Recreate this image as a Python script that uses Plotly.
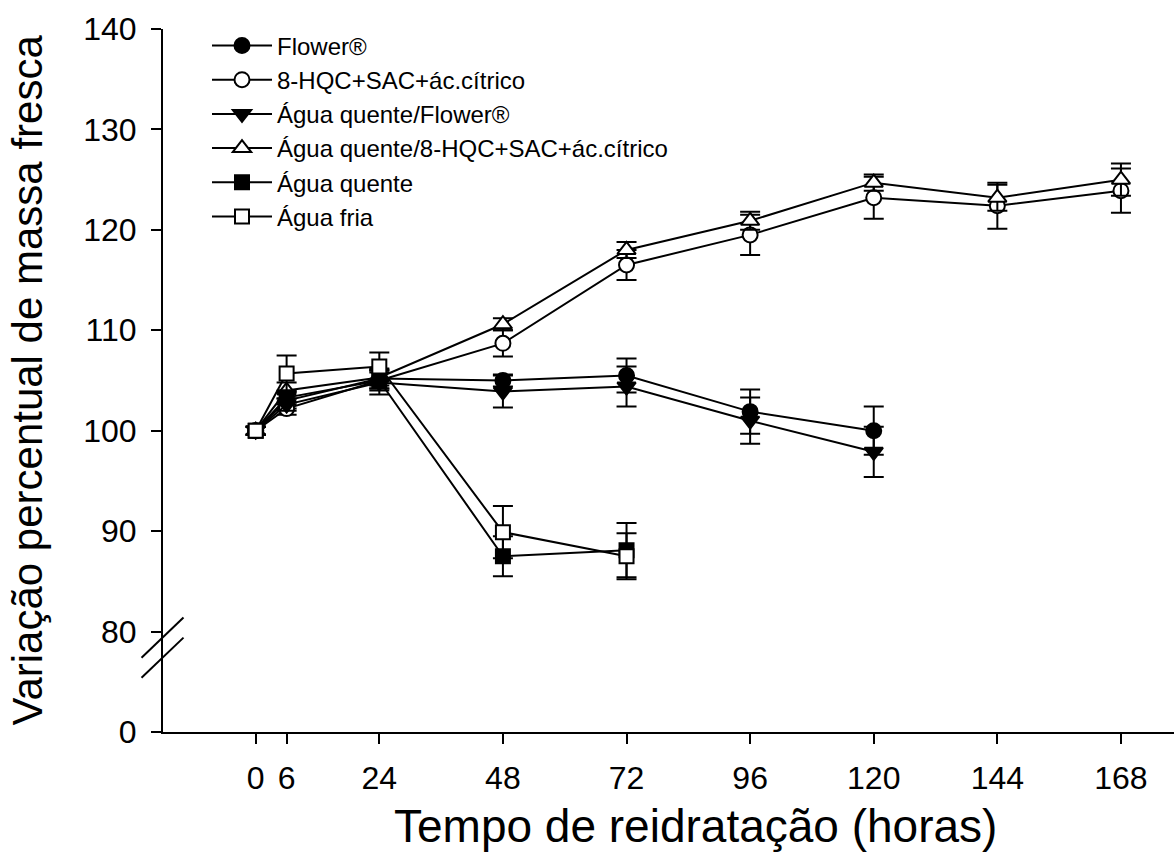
import plotly.graph_objects as go

# ---------------- data ----------------
hours_all = [0, 6, 24, 48, 72, 96, 120, 144, 168]
hours_120 = [0, 6, 24, 48, 72, 96, 120]
hours_72 = [0, 6, 24, 48, 72]

flower = [100, 103.0, 105.2, 105.0, 105.5, 101.9, 100.0]
flower_err = [0.4, 0.8, 1.0, 0.6, 1.7, 2.2, 2.4]

hqc = [100, 102.2, 105.0, 108.7, 116.5, 119.5, 123.2, 122.4, 123.9]
hqc_err = [0.4, 0.6, 0.8, 1.3, 1.5, 2.0, 2.1, 2.3, 2.2]

aq_flower = [100, 102.6, 104.8, 103.9, 104.4, 101.0, 97.9]
aq_flower_err = [0.4, 0.6, 1.2, 1.6, 2.0, 2.3, 2.5]

aq_hqc = [100, 104.0, 105.3, 110.6, 118.0, 120.9, 124.7, 123.2, 125.0]
aq_hqc_err = [0.4, 0.8, 0.8, 0.6, 0.8, 0.9, 0.8, 1.3, 1.6]

aq = [100, 103.3, 105.0, 87.5, 88.1]
aq_err = [0.4, 0.7, 1.0, 2.0, 2.7]

af = [100, 105.7, 106.4, 89.9, 87.5]
af_err = [0.4, 1.8, 1.4, 2.6, 2.3]

series_names = ["Flower®", "8-HQC+SAC+ác.cítrico", "Água quente/Flower®",
                "Água quente/8-HQC+SAC+ác.cítrico", "Água quente", "Água fria"]

x_ticks = [0, 6, 24, 48, 72, 96, 120, 144, 168]
y_tickvals = [70, 80, 90, 100, 110, 120, 130, 140]
y_ticktext = ["0", "80", "90", "100", "110", "120", "130", "140"]

FONT = "Liberation Sans, Arial, sans-serif"

specs = [
    (hours_120, flower, flower_err, "circle", "black", 15),
    (hours_all, hqc, hqc_err, "circle", "white", 15),
    (hours_120, aq_flower, aq_flower_err, "triangle-down", "black", 16),
    (hours_all, aq_hqc, aq_hqc_err, "triangle-up", "white", 16),
    (hours_72, aq, aq_err, "square", "black", 14),
    (hours_72, af, af_err, "square", "white", 14),
]

fig = go.Figure()
for name, (xs, ys, es, sym, fill, size) in zip(series_names, specs):
    fig.add_trace(go.Scatter(
        x=xs, y=ys, name=name, mode="lines+markers",
        line=dict(color="black", width=2),
        marker=dict(symbol=sym, size=size, color=fill,
                    line=dict(color="black", width=2)),
        error_y=dict(type="data", array=es, visible=True,
                     color="black", thickness=2, width=10),
        cliponaxis=False,
    ))

fig.update_layout(
    width=1174, height=863,
    margin=dict(l=163, r=0, t=29, b=131),
    paper_bgcolor="white", plot_bgcolor="white",
    font=dict(family=FONT, color="black"),
    showlegend=True,
    legend=dict(
        x=(207 - 163) / 1011, y=1.008, xanchor="left", yanchor="top",
        font=dict(family=FONT, size=24, color="black"),
        bgcolor="rgba(0,0,0,0)", borderwidth=0, tracegroupgap=0,
        itemwidth=60,
    ),
    xaxis=dict(
        range=[-18.0, 178.3], tickvals=x_ticks,
        ticktext=[str(v) for v in x_ticks],
        showgrid=False, zeroline=False, showline=True,
        linecolor="black", linewidth=2,
        ticks="outside", ticklen=10, tickwidth=2, tickcolor="black",
        tickfont=dict(family=FONT, size=32, color="black"),
        ticklabelstandoff=7,
    ),
    yaxis=dict(
        range=[70, 140], tickvals=y_tickvals, ticktext=y_ticktext,
        showgrid=False, zeroline=False, showline=True,
        linecolor="black", linewidth=2,
        ticks="outside", ticklen=10, tickwidth=2, tickcolor="black",
        tickfont=dict(family=FONT, size=32, color="black"),
        ticklabelstandoff=8,
    ),
)

# x-axis line slight extension left of the y axis
fig.add_shape(type="line", xref="paper", yref="paper",
              x0=-11 / 1011, x1=0, y0=0, y1=0,
              line=dict(color="black", width=2))

# axis break marks
for y_lo, y_hi in [(77.4, 81.4), (75.4, 79.4)]:
    fig.add_shape(type="line", xref="paper", yref="y",
                  x0=-21.5 / 1011, x1=20.5 / 1011, y0=y_lo, y1=y_hi,
                  line=dict(color="black", width=2))

# axis titles
fig.add_annotation(text="Tempo de reidratação (horas)", xref="paper", yref="paper",
                   x=(695 - 163) / 1011, y=0, yshift=-94, xanchor="center", yanchor="middle",
                   showarrow=False, font=dict(family=FONT, size=46, color="black"))
fig.add_annotation(text="Variação percentual de massa fresca", xref="paper", yref="paper",
                   x=0, xshift=-(163 - 27), y=0.5, xanchor="center", yanchor="middle",
                   textangle=-90, showarrow=False,
                   font=dict(family=FONT, size=42, color="black"))

fig.write_html("out.html")
